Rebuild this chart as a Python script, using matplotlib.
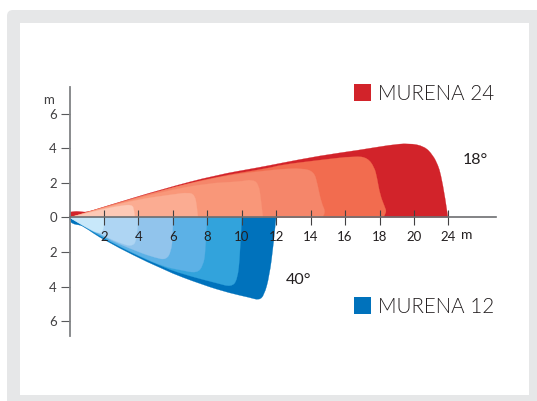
"""Murena 24 / Murena 12 spray range chart, saved as out.png."""
import matplotlib
matplotlib.use("Agg")
import matplotlib.pyplot as plt
from matplotlib import font_manager
from matplotlib.patches import FancyBboxPatch, PathPatch, Rectangle
from matplotlib.path import Path
from matplotlib.transforms import IdentityTransform

# x axis is evenly spaced, the last tick just reads 24 instead of 22
X_TICKS = [2, 4, 6, 8, 10, 12, 14, 16, 18, 20, 22]
X_LABELS = ["2", "4", "6", "8", "10", "12", "14", "16", "18", "20", "24"]
Y_TICKS = [6, 4, 2, 0, -2, -4, -6]
Y_LABELS = ["6", "4", "2", "0", "2", "4", "6"]

RED_COLORS = ["#d2232a", "#f26c4f", "#f5866a", "#f99779", "#fbac92", "#fdc9b6"]
BLUE_COLORS = ["#0072bc", "#32a3dc", "#5cb1e6", "#91c4ec", "#aed5f3", "#c8e8fa"]

# outlines, largest first
RED_X = [
    [0, 0, 0.15, 0.4, 0.7, 1.0, 1.95, 5.43, 8.5, 11.06, 12.22, 14.54, 16.86, 18.6, 19.7, 20.6,
     21.1, 21.4, 21.55, 21.8, 21.97],
    [0, 1.95, 5.43, 8.5, 11.64, 12.22, 14.54, 16.6, 17.3, 17.7, 17.85, 18.03, 18.3, 18.42, 18.2],
    [0, 1.95, 5.4, 8, 10, 11.6, 12.22, 13.5, 14.2, 14.4, 14.62, 14.9, 14.66],
    [0, 1.95, 5.4, 8, 9.9, 10.6, 10.98, 11.12, 11.23],
    [0, 2, 4, 6, 6.9, 7.28, 7.4, 7.46],
    [0, 2, 3, 3.65, 3.75, 3.8],
]
RED_Y = [
    [0, 0.3, 0.33, 0.36, 0.33, 0.3, 0.6, 1.65, 2.45, 2.9, 3.13, 3.57, 3.9, 4.19, 4.29, 4.12,
     3.6, 3.0, 2.5, 1.19, 0],
    [0, 0.58, 1.6, 2.35, 2.86, 3.03, 3.32, 3.55, 3.45, 2.9, 2.3, 1.3, 0.62, 0.28, 0],
    [0, 0.57, 1.58, 2.2, 2.55, 2.72, 2.79, 2.85, 2.65, 1.9, 0.84, 0.26, 0],
    [0, 0.55, 1.5, 1.98, 2.07, 2.2, 1.95, 1.0, 0],
    [0, 0.55, 1.05, 1.33, 1.45, 1.3, 0.6, 0],
    [0, 0.5, 0.68, 0.75, 0.4, 0],
]
BLUE_X = [
    [0, 0, 0.3, 0.5, 0.8, 1.95, 5.43, 7.75, 9.3, 10.48, 11.0, 11.3, 11.6, 11.85, 11.99],
    [0, 1.95, 5.43, 7.2, 8.55, 9.4, 9.75, 9.9, 10],
    [0, 2, 4, 5.5, 6.5, 7.4, 7.75, 7.9, 7.98],
    [0, 2, 4, 5, 5.6, 5.9, 6.0, 6],
    [0, 2, 3, 3.6, 3.92, 3.99],
    [0, 1, 1.7, 2.0, 2.05],
]
BLUE_Y = [
    [0, -0.25, -0.4, -0.42, -0.5, -1.3, -3.03, -3.9, -4.37, -4.63, -4.78, -4.5, -3.4, -1.5, 0],
    [0, -1.25, -2.9, -3.45, -3.79, -4.02, -3.6, -2.17, 0],
    [0, -1.2, -2.2, -2.85, -3.05, -3.22, -2.8, -1.98, 0],
    [0, -1.15, -2.0, -2.33, -2.45, -1.98, -1.0, 0],
    [0, -1.08, -1.5, -1.68, -1.35, 0],
    [0, -0.6, -0.95, -0.75, 0],
]

W, H = 537, 401
GRAY = "#808285"
TEXT = "#231f20"

plt.rcParams["font.family"] = ["Lato", "DejaVu Sans"]


def fx(px):
    return px / W


def fy(py):
    return 1 - py / H


def px_rect(x0, y0, x1, y1, color):
    # rectangle given in picture pixels, y going down
    return Rectangle((x0, H - y1), x1 - x0, y1 - y0, transform=IdentityTransform(),
                     fc=color, ec="none")


def soft_shape(xs, ys):
    # quadratic curve through the midpoints, so the noses come out round
    pts = list(zip(xs, ys))
    verts = [pts[0]]
    codes = [Path.MOVETO]
    for i in range(1, len(pts) - 1):
        nxt = pts[i + 1] if i == len(pts) - 2 else ((pts[i][0] + pts[i + 1][0]) / 2,
                                                    (pts[i][1] + pts[i + 1][1]) / 2)
        verts += [pts[i], nxt]
        codes += [Path.CURVE3, Path.CURVE3]
    verts.append(pts[0])
    codes.append(Path.CLOSEPOLY)
    return Path(verts, codes)


def light_font():
    # Lato Light by file name, "light" as a weight can land on Hairline
    for f in font_manager.fontManager.ttflist:
        if f.name == "Lato" and f.fname.endswith("Lato-Light.ttf"):
            return font_manager.FontProperties(fname=f.fname)
    return font_manager.FontProperties(family="Lato")


fig = plt.figure(figsize=(W / 100, H / 100), dpi=100)

# ── grey frame ──
fig.add_artist(FancyBboxPatch((7, -20), W + 20, H - 10 + 20,
                              boxstyle="round,pad=0,rounding_size=6",
                              transform=IdentityTransform(), fc="#e6e7e8", ec="none"))
fig.add_artist(px_rect(20, 23, 529, 395, "white"))

# ── plot area, axes cross at 0 ──
ax = fig.add_axes([fx(69.5), fy(336), fx(426.5), fy(87) - fy(336)])
ax.set_zorder(3)
ax.patch.set_alpha(0)
ax.set_xlim(0, 24.76)
ax.set_ylim(-6.85, 7.54)

for xs, ys, col in zip(RED_X + BLUE_X, RED_Y + BLUE_Y, RED_COLORS + BLUE_COLORS):
    ax.add_patch(PathPatch(soft_shape(xs, ys), fc=col, ec=col, lw=0.2, clip_on=False))

ax.spines["top"].set_visible(False)
ax.spines["right"].set_visible(False)
ax.spines["left"].set_position(("data", 0))
ax.spines["bottom"].set_position(("data", 0))
ax.spines["left"].set_color(GRAY)
ax.spines["left"].set_linewidth(1.3)
ax.spines["bottom"].set_color("#6d6e71")
ax.spines["bottom"].set_linewidth(1.2)

ax.set_xticks(X_TICKS)
ax.set_xticklabels(X_LABELS)
ax.set_yticks(Y_TICKS)
ax.set_yticklabels(Y_LABELS)
ax.tick_params(axis="x", direction="inout", length=10.8, width=0.8, color="#414042",
               labelsize=9.5, labelcolor=TEXT, pad=4)
ax.tick_params(axis="y", direction="out", length=6.5, width=0.8, color="#58595b",
               labelsize=9.5, labelcolor="#414042", pad=2.5)

# ── texts, legend squares ──
fig.text(fx(467), fy(235), "m", fontsize=10, color=TEXT, ha="center", va="center")
fig.text(fx(49), fy(100), "m", fontsize=9.5, color="#414042", ha="center", va="center")
fig.text(fx(475), fy(160), "18°", fontsize=11.5, color=TEXT, ha="center", va="center")
fig.text(fx(299), fy(280.5), "40°", fontsize=11.5, color=TEXT, ha="center", va="center")

fig.add_artist(px_rect(354, 84, 371, 101, "#d2232a"))
fig.add_artist(px_rect(354, 297, 371, 314, "#0072bc"))
legend_font = light_font()
legend_font.set_size(14.8)
fig.text(fx(378), fy(94), "MURENA 24", fontproperties=legend_font, color=TEXT,
         ha="left", va="center")
fig.text(fx(378), fy(307), "MURENA 12", fontproperties=legend_font, color=TEXT,
         ha="left", va="center")

fig.savefig("out.png", dpi=100)
plt.close(fig)
